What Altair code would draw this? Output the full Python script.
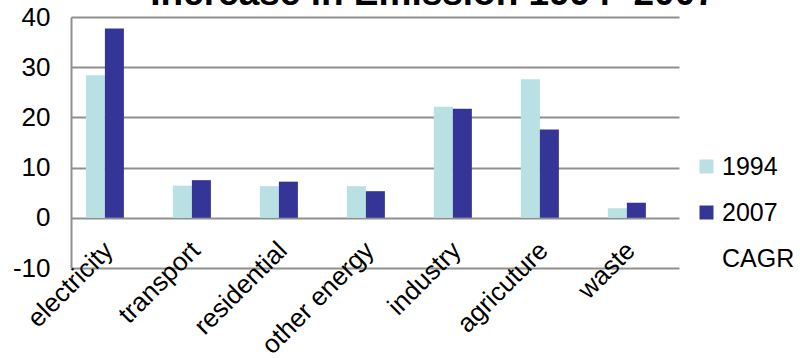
import altair as alt
import pandas as pd

# Emission growth by sector, 1994 vs 2007
sectors = ["electricity", "transport", "residential", "other energy",
           "industry", "agricuture", "waste"]
values_1994 = [28.4, 6.4, 6.3, 6.3, 22.1, 27.6, 1.9]
values_2007 = [37.7, 7.5, 7.2, 5.3, 21.7, 17.6, 3.0]
series = ["1994", "2007", "CAGR"]
series_colors = ["#b9e0e3", "#353598", "transparent"]
y_ticks = [-10, 0, 10, 20, 30, 40]
title_text = "Increase in Emission 1994- 2007"

rows = []
for s, a, b in zip(sectors, values_1994, values_2007):
    rows.append({"sector": s, "year": "1994", "value": a})
    rows.append({"sector": s, "year": "2007", "value": b})
df = pd.DataFrame(rows)

FONT = "Liberation Sans"

bars = alt.Chart(df).mark_bar().encode(
    x=alt.X(
        "sector:N",
        sort=sectors,
        scale=alt.Scale(paddingInner=0.563, paddingOuter=0.276, align=0.31),
        axis=alt.Axis(
            title=None, labelAngle=-45, labelAlign="right", labelBaseline="middle",
            labelFontSize=26, labelFont=FONT, labelColor="#000000",
            labelPadding=-22, labelOffset=4, ticks=False, domain=False, grid=False,
        ),
    ),
    xOffset=alt.XOffset("year:N", scale=alt.Scale(domain=["1994", "2007"])),
    y=alt.Y(
        "value:Q",
        scale=alt.Scale(domain=[-10, 40], nice=False),
        axis=alt.Axis(
            title=None, values=y_ticks, ticks=False, labelPadding=21,
            labelExpr="'' + datum.value",
            labelFontSize=26, labelFont=FONT, labelColor="#000000",
            grid=True, gridColor="#8f8f8f", gridWidth=2,
            domain=True, domainColor="#8f8f8f", domainWidth=2,
        ),
    ),
    color=alt.Color(
        "year:N",
        scale=alt.Scale(domain=series, range=series_colors),
        legend=alt.Legend(
            title=None, orient="none", legendX=623, legendY=137,
            symbolType="square", symbolSize=196, symbolStrokeWidth=0,
            labelFontSize=25, labelFont=FONT, labelColor="#000000",
            labelOffset=3, rowPadding=20, padding=0,
        ),
    ),
)

title = alt.Chart(pd.DataFrame({"t": [title_text]})).mark_text(
    font=FONT, fontSize=37, fontWeight="bold", color="#000000",
    align="center", baseline="alphabetic",
).encode(
    x=alt.value(362),
    y=alt.value(-12),
    text="t:N",
)

chart = alt.layer(bars, title).properties(
    width=608,
    height=251,
    autosize=alt.AutoSizeParams(type="none"),
    padding={"left": 71, "top": 17, "right": 121, "bottom": 90},
    background="#ffffff",
).configure_view(strokeWidth=0)

chart.save("out.html", embed_options={"renderer": "svg", "actions": False})
